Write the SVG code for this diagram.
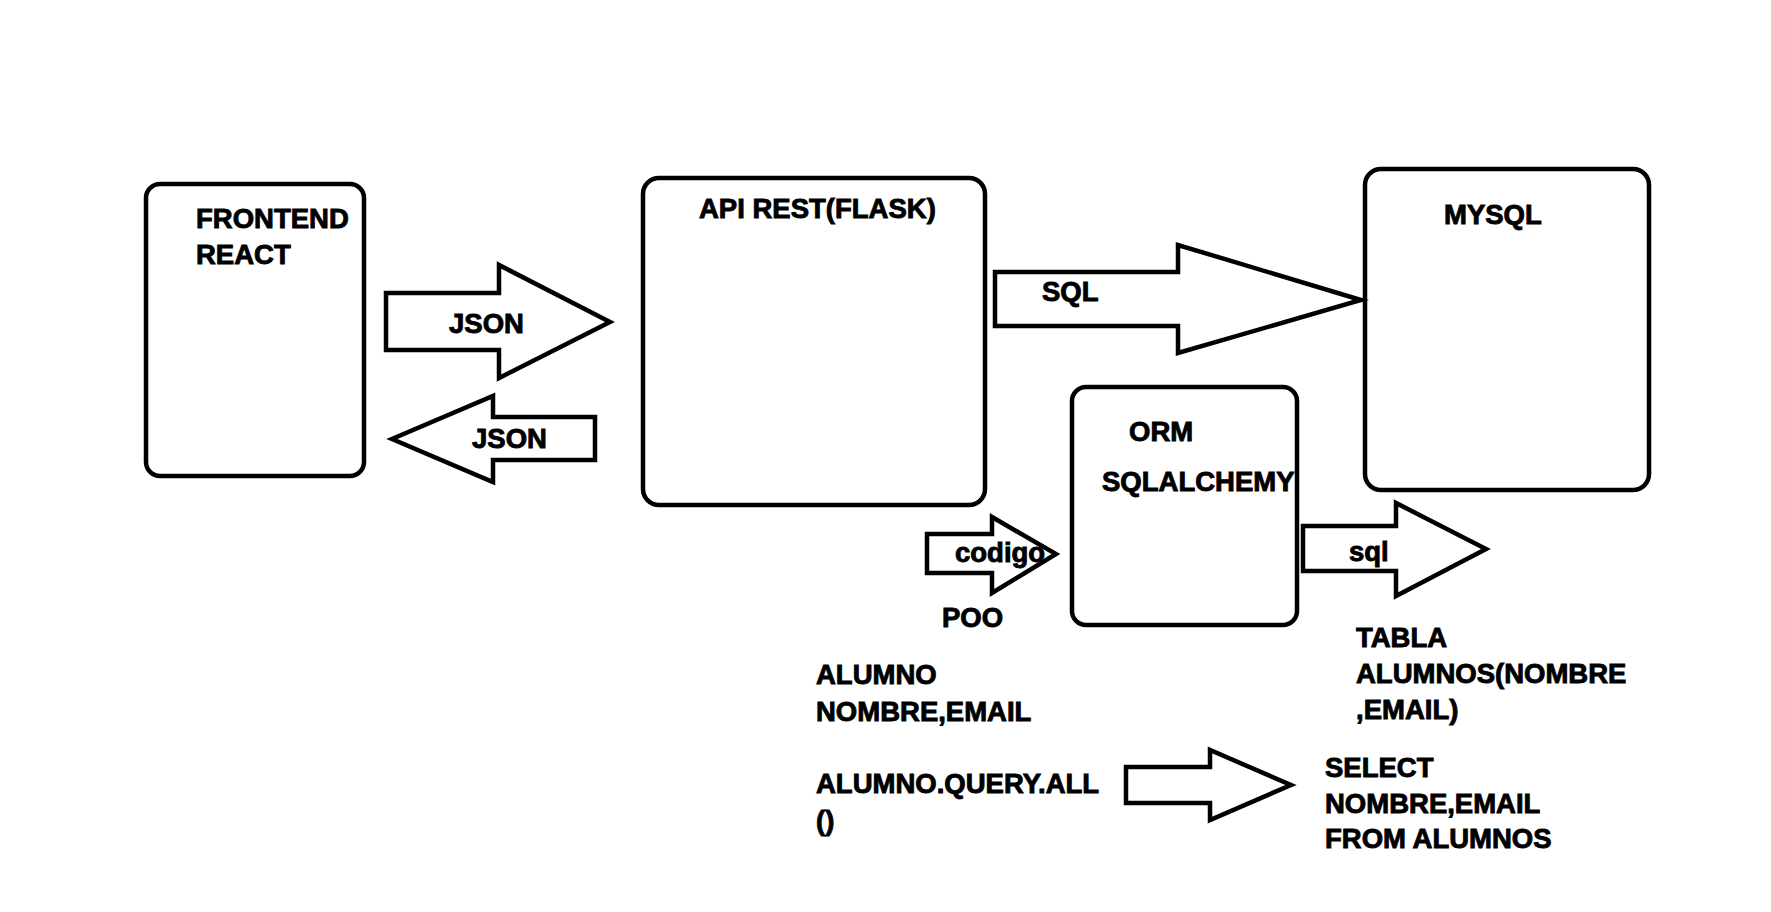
<svg xmlns="http://www.w3.org/2000/svg" width="1771" height="912" viewBox="0 0 1771 912">
<style>
.box{fill:#fff;stroke:#000;stroke-width:4.5}
.arr{fill:#fff;stroke:#000;stroke-width:4.5;stroke-linejoin:miter}
text{font-family:"Liberation Sans",Arial,sans-serif;font-weight:bold;font-size:27.5px;fill:#000;stroke:#000;stroke-width:0.9px}
</style>
<rect width="1771" height="912" fill="#fff"/>
<g id="frontend">
<rect class="box" x="146" y="184" width="218" height="292" rx="14"/>
<text x="196" y="228">FRONTEND</text>
<text x="196" y="264">REACT</text>
</g>
<g id="api">
<rect class="box" x="643" y="178" width="342" height="327" rx="16"/>
<text x="699" y="218">API REST(FLASK)</text>
</g>
<g id="mysql">
<rect class="box" x="1365" y="169" width="284" height="321" rx="16"/>
<text x="1444" y="224">MYSQL</text>
</g>
<g id="orm">
<rect class="box" x="1072" y="387" width="225" height="238" rx="14"/>
<text x="1129" y="441">ORM</text>
<text x="1102" y="491">SQLALCHEMY</text>
</g>
<g id="connectors">
<polygon class="arr" points="386,293 499,293 499,265 610,322 499,378 499,350 386,350"/>
<polygon class="arr" points="595,417 493,417 493,396 392,439 493,482 493,460 595,460"/>
<polygon class="arr" points="995,272 1178,272 1178,245 1361,300 1178,353 1178,326 995,326"/>
<polygon class="arr" points="927,534 992,534 992,517 1056,554 992,593 992,573 927,573"/>
<polygon class="arr" points="1303,526 1396,526 1396,503 1486,549 1396,596 1396,571 1303,571"/>
<polygon class="arr" points="1126,767 1210,767 1210,750 1291,785 1210,820 1210,803 1126,803"/>
<text x="449" y="333">JSON</text>
<text x="472" y="448">JSON</text>
<text x="1042" y="301">SQL</text>
<text x="955" y="562">codigo</text>
<text x="1349" y="561">sql</text>
</g>
<g id="notes">
<text x="942" y="627">POO</text>
<text x="816" y="684">ALUMNO</text>
<text x="816" y="721">NOMBRE,EMAIL</text>
<text x="816" y="793">ALUMNO.QUERY.ALL</text>
<text x="816" y="830">()</text>
<text x="1356" y="647">TABLA</text>
<text x="1356" y="683">ALUMNOS(NOMBRE</text>
<text x="1356" y="719">,EMAIL)</text>
<text x="1325" y="777">SELECT</text>
<text x="1325" y="813">NOMBRE,EMAIL</text>
<text x="1325" y="848">FROM ALUMNOS</text>
</g>
</svg>
